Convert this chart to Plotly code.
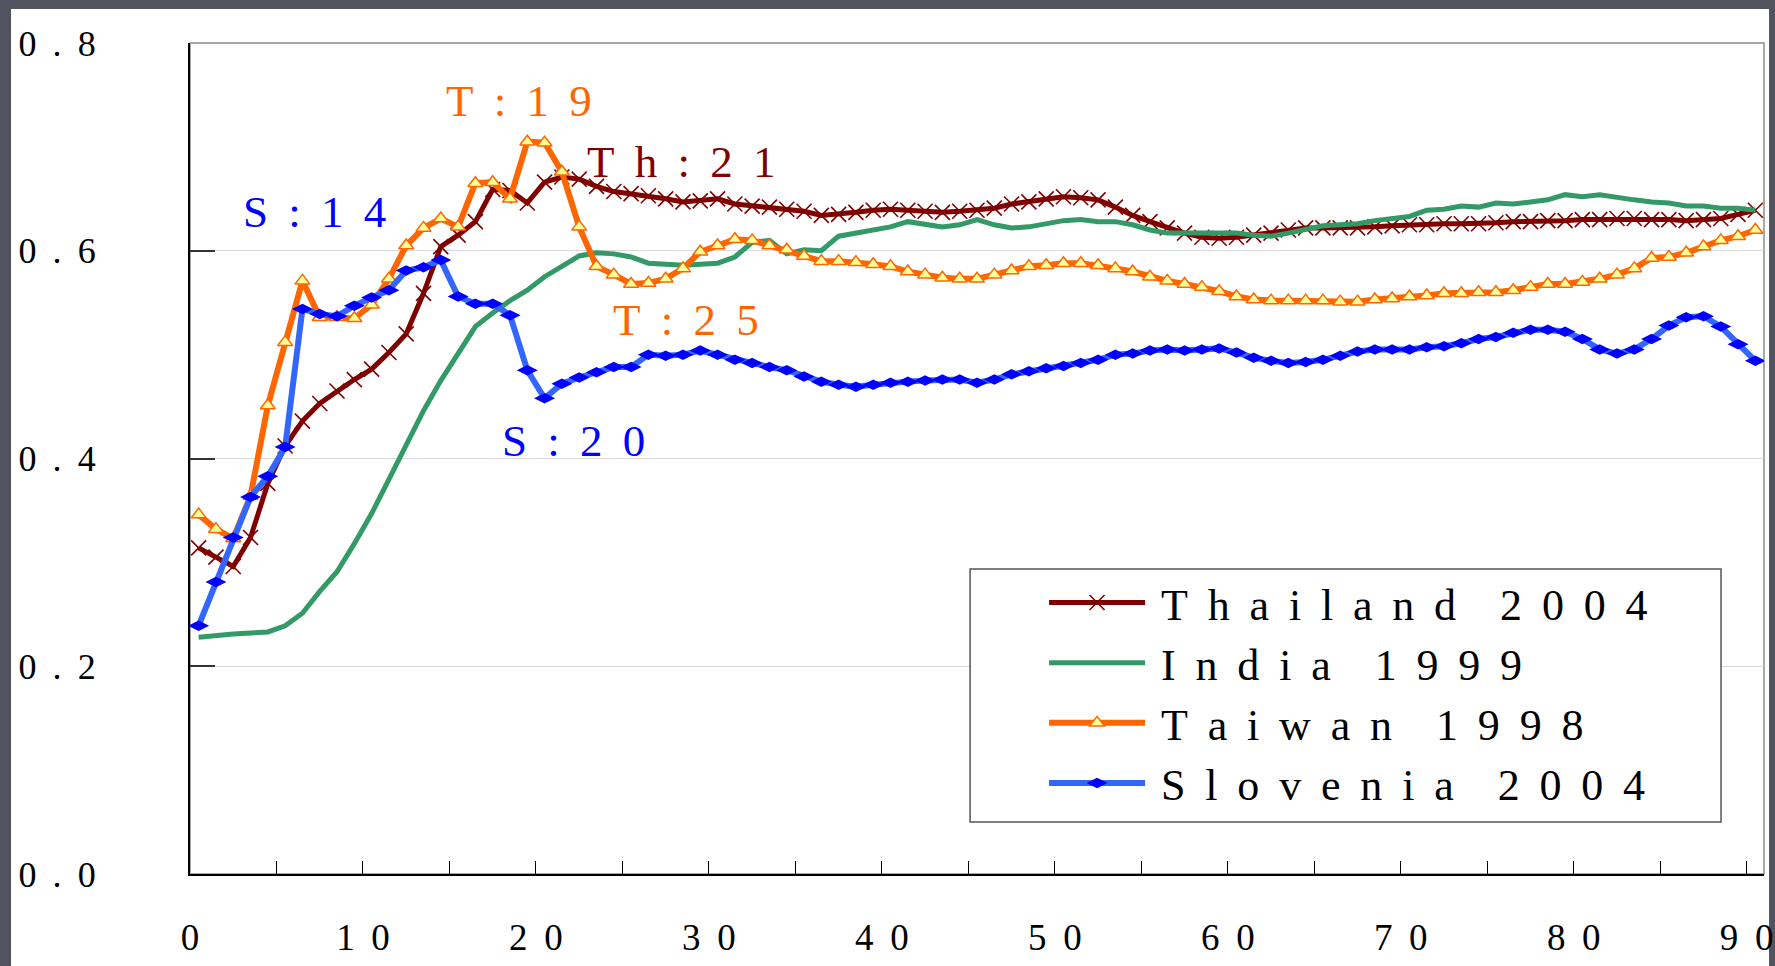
import plotly.graph_objects as go

# ---------------- data ----------------
ages = list(range(91))

thailand_2004 = [
    0.314, 0.305, 0.296, 0.324, 0.376, 0.412, 0.436, 0.453, 0.465, 0.476,
    0.486, 0.502, 0.520, 0.559, 0.604, 0.615, 0.628, 0.659, 0.658, 0.646,
    0.666, 0.671, 0.669, 0.662, 0.657, 0.655, 0.653, 0.650, 0.647, 0.648,
    0.650, 0.645, 0.643, 0.642, 0.640, 0.638, 0.634, 0.635, 0.637, 0.639,
    0.640, 0.639, 0.638, 0.637, 0.638, 0.639, 0.641, 0.645, 0.647, 0.650,
    0.652, 0.651, 0.649, 0.642, 0.634, 0.628, 0.622, 0.617, 0.613, 0.612,
    0.613, 0.615, 0.617, 0.620, 0.622, 0.622, 0.622, 0.622, 0.623, 0.624,
    0.625, 0.625, 0.626, 0.626, 0.626, 0.627, 0.628, 0.628, 0.629, 0.629,
    0.630, 0.630, 0.631, 0.631, 0.630, 0.630, 0.629, 0.630, 0.631, 0.635,
    0.639,
]

india_1999 = [
    0.228, 0.230, 0.231, 0.232, 0.233, 0.239, 0.251, 0.272, 0.291, 0.318,
    0.347, 0.380, 0.414, 0.446, 0.475, 0.501, 0.527, 0.540, 0.552, 0.562,
    0.575, 0.585, 0.595, 0.598, 0.597, 0.594, 0.588, 0.587, 0.586, 0.587,
    0.588, 0.594, 0.608, 0.610, 0.597, 0.601, 0.600, 0.614, 0.617, 0.621,
    0.623, 0.628, 0.626, 0.623, 0.625, 0.630, 0.625, 0.622, 0.623, 0.626,
    0.629, 0.630, 0.628, 0.628, 0.625, 0.620, 0.617, 0.617, 0.617, 0.618,
    0.617, 0.615, 0.614, 0.617, 0.620, 0.624, 0.625, 0.626, 0.629, 0.631,
    0.633, 0.639, 0.640, 0.643, 0.642, 0.646, 0.645, 0.647, 0.649, 0.654,
    0.652, 0.654, 0.651, 0.649, 0.647, 0.646, 0.643, 0.643, 0.641, 0.641,
    0.639,
]

taiwan_1998 = [
    0.346, 0.332, 0.323, 0.364, 0.451, 0.512, 0.571, 0.536, 0.536, 0.535,
    0.548, 0.573, 0.605, 0.622, 0.631, 0.623, 0.665, 0.666, 0.650, 0.705,
    0.704, 0.676, 0.623, 0.585, 0.577, 0.568, 0.569, 0.573, 0.583, 0.599,
    0.605, 0.611, 0.610, 0.605, 0.601, 0.595, 0.590, 0.590, 0.589, 0.587,
    0.585, 0.580, 0.577, 0.574, 0.573, 0.573, 0.577, 0.581, 0.585, 0.586,
    0.588, 0.588, 0.586, 0.583, 0.580, 0.575, 0.571, 0.568, 0.565, 0.561,
    0.556, 0.553, 0.552, 0.552, 0.552, 0.552, 0.551, 0.551, 0.553, 0.554,
    0.556, 0.557, 0.559, 0.559, 0.560, 0.560, 0.562, 0.565, 0.568, 0.568,
    0.570, 0.573, 0.577, 0.583, 0.593, 0.594, 0.598, 0.604, 0.610, 0.614,
    0.620,
]

slovenia_2004 = [
    0.239, 0.281, 0.324, 0.363, 0.383, 0.411, 0.544, 0.539, 0.537, 0.547,
    0.555, 0.562, 0.581, 0.584, 0.591, 0.556, 0.549, 0.549, 0.538, 0.485,
    0.458, 0.472, 0.478, 0.483, 0.488, 0.488, 0.500, 0.499, 0.500, 0.504,
    0.500, 0.495, 0.492, 0.488, 0.485, 0.479, 0.474, 0.471, 0.469, 0.471,
    0.473, 0.474, 0.475, 0.476, 0.476, 0.473, 0.476, 0.481, 0.484, 0.487,
    0.489, 0.492, 0.495, 0.500, 0.501, 0.504, 0.505, 0.504, 0.505, 0.506,
    0.502, 0.497, 0.494, 0.492, 0.493, 0.495, 0.499, 0.503, 0.505, 0.505,
    0.505, 0.507, 0.508, 0.511, 0.515, 0.517, 0.521, 0.524, 0.524, 0.522,
    0.515, 0.505, 0.501, 0.505, 0.515, 0.528, 0.536, 0.537, 0.527, 0.510,
    0.494,
]

series_names = ["Thailand 2004", "India 1999", "Taiwan 1998", "Slovenia 2004"]

y_tick_vals = [0.0, 0.2, 0.4, 0.6, 0.8]
y_tick_labels = ["0.0", "0.2", "0.4", "0.6", "0.8"]
x_tick_vals = list(range(0, 91, 5))
x_tick_labels = [str(v) if v % 10 == 0 else "" for v in x_tick_vals]

peak_labels = ["S:14", "T:19", "Th:21", "T:25", "S:20"]

# ---------------- styling ----------------
FONT = "Liberation Serif"
SEP = "\u00a0\u2009"
WSEP = "\u00a0" * 4


def spaced(s):
    return WSEP.join(SEP.join(list(w)) for w in s.split(" "))


# points sit in the middle of each one-year band
x_pos = [a + 0.5 for a in ages]

fig = go.Figure()

fig.add_trace(go.Scatter(
    x=x_pos, y=thailand_2004, name="\u00a0" + spaced(series_names[0]), mode="lines+markers",
    line=dict(color="#800000", width=5),
    marker=dict(symbol="x-thin", size=15, color="#800000",
                line=dict(color="#800000", width=1.6)),
))
fig.add_trace(go.Scatter(
    x=x_pos, y=india_1999, name="\u00a0" + spaced(series_names[1]), mode="lines",
    line=dict(color="#339966", width=5),
))
fig.add_trace(go.Scatter(
    x=x_pos, y=taiwan_1998, name="\u00a0" + spaced(series_names[2]), mode="lines+markers",
    line=dict(color="#FF6600", width=6),
    marker=dict(symbol="triangle-up", size=13, color="#FFFF99",
                line=dict(color="#FF6600", width=1.5)),
))
fig.add_trace(go.Scatter(
    x=x_pos, y=slovenia_2004, name="\u00a0" + spaced(series_names[3]), mode="lines+markers",
    line=dict(color="#3366FF", width=6),
    marker=dict(symbol="diamond-wide", size=15, color="#0000FF",
                line=dict(width=0)),
))

label_style = [
    dict(x=7.2, y=0.637, color="#0000FF"),
    dict(x=19.0, y=0.744, color="#FF6600"),
    dict(x=28.4, y=0.685, color="#800000"),
    dict(x=28.7, y=0.533, color="#FF6600"),
    dict(x=22.2, y=0.417, color="#0000FF"),
]
for txt, st in zip(peak_labels, label_style):
    fig.add_annotation(
        x=st["x"], y=st["y"], xref="x", yref="y", text=spaced(txt),
        showarrow=False, font=dict(family=FONT, size=45, color=st["color"]),
    )

# white page over the dark frame
fig.add_shape(type="rect", xref="paper", yref="paper",
              x0=-0.1137, x1=1.0032, y0=-0.2, y1=1.041,
              fillcolor="white", line=dict(width=0), layer="below")
# plot area border (top/right grey)
fig.add_shape(type="rect", xref="paper", yref="paper",
              x0=0, x1=1, y0=0, y1=1,
              line=dict(color="#8c8c8c", width=1.5), layer="below")
# legend frame
fig.add_shape(type="rect", xref="paper", yref="paper",
              x0=0.4956, x1=0.9727, y0=0.0626, y1=0.367,
              fillcolor="white", line=dict(color="#555555", width=1.5), layer="above")

fig.update_layout(
    width=1775, height=966,
    margin=dict(l=190, r=11, t=43, b=92, autoexpand=False),
    paper_bgcolor="#51535f",
    plot_bgcolor="white",
    font=dict(family=FONT, color="black"),
    showlegend=True,
    legend=dict(
        x=0.5426, y=0.369, xanchor="left", yanchor="top",
        bgcolor="rgba(0,0,0,0)", borderwidth=0,
        font=dict(family=FONT, size=44, color="black"),
        itemwidth=96, tracegroupgap=0,
    ),
    xaxis=dict(
        range=[0, 91], tickmode="array", tickvals=x_tick_vals,
        ticktext=[spaced(t) for t in x_tick_labels],
        ticks="inside", ticklen=13, tickwidth=1, tickcolor="black",
        showline=True, linecolor="black", linewidth=2,
        showgrid=False, zeroline=False, automargin=False,
        ticklabelstandoff=30,
        tickfont=dict(family=FONT, size=37, color="black"),
    ),
    yaxis=dict(
        range=[0, 0.8], tickmode="array", tickvals=y_tick_vals,
        ticktext=[spaced(t) for t in y_tick_labels],
        ticks="inside", ticklen=25, tickwidth=1.5, tickcolor="#333333",
        showline=True, linecolor="black", linewidth=2,
        showgrid=True, gridcolor="#d9d9d9", gridwidth=1, zeroline=False,
        automargin=False,
        ticklabelstandoff=85,
        tickfont=dict(family=FONT, size=36, color="black"),
    ),
)

fig.write_html("out.html", config={"displayModeBar": False},
               post_script="document.body.style.margin='0';")
